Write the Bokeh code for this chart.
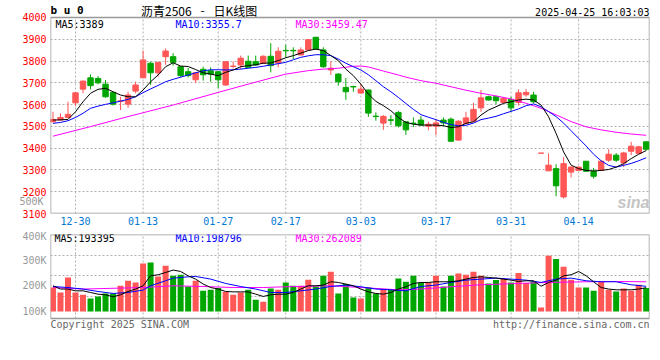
from bokeh.plotting import figure
from bokeh.models import Range1d, FixedTicker, Label, ColumnDataSource, LinearAxis
from bokeh.layouts import column
from bokeh.embed import file_html
from bokeh.resources import INLINE

# ---------------- data ----------------
dates = ["12-25", "12-26", "12-27", "12-30", "12-31", "01-02", "01-03", "01-06", "01-07", "01-08",
         "01-09", "01-10", "01-13", "01-14", "01-15", "01-16", "01-17", "01-20", "01-21", "01-22",
         "01-23", "01-24", "01-27", "02-05", "02-06", "02-07", "02-10", "02-11", "02-12", "02-13",
         "02-14", "02-17", "02-18", "02-19", "02-20", "02-21", "02-24", "02-25", "02-26", "02-27",
         "02-28", "03-03", "03-04", "03-05", "03-06", "03-07", "03-10", "03-11", "03-12", "03-13",
         "03-14", "03-17", "03-18", "03-19", "03-20", "03-21", "03-24", "03-25", "03-26", "03-27",
         "03-28", "03-31", "04-01", "04-02", "04-03", "04-07", "04-08", "04-09", "04-10", "04-11",
         "04-14", "04-15", "04-16", "04-17", "04-18", "04-21", "04-22", "04-23", "04-24", "04-25"]
tick_dates = ["12-30", "01-13", "01-27", "02-17", "03-03", "03-17", "03-31", "04-14"]

open_ = [3521, 3529, 3541, 3608, 3671, 3723, 3720, 3694, 3656, 3615,
         3602, 3662, 3723, 3790, 3746, 3820, 3820, 3774, 3751, 3714,
         3762, 3755, 3751, 3690, 3775, 3782, 3799, 3797, 3790, 3822,
         3791, 3849, 3849, 3828, 3851, 3909, 3851, 3759, 3740, 3679,
         3683, 3653, 3667, 3547, 3515, 3530, 3564, 3521, 3515, 3529,
         3501, 3501, 3529, 3533, 3437, 3514, 3524, 3585, 3636, 3636,
         3610, 3624, 3610, 3645, 3644, 3377, 3296, 3306, 3176, 3290,
         3298, 3340, 3294, 3298, 3345, 3368, 3332, 3386, 3376, 3429]
high = [3567, 3560, 3613, 3657, 3710, 3739, 3731, 3713, 3658, 3636,
        3659, 3705, 3848, 3797, 3796, 3858, 3836, 3776, 3768, 3748,
        3774, 3771, 3753, 3799, 3797, 3825, 3825, 3825, 3826, 3882,
        3863, 3875, 3863, 3863, 3900, 3911, 3863, 3799, 3744, 3722,
        3687, 3694, 3669, 3564, 3552, 3552, 3571, 3523, 3541, 3547,
        3521, 3532, 3541, 3541, 3528, 3567, 3608, 3667, 3641, 3641,
        3634, 3636, 3670, 3671, 3659, 3377, 3376, 3326, 3360, 3317,
        3317, 3341, 3309, 3344, 3395, 3378, 3383, 3429, 3411, 3430]
low = [3519, 3527, 3539, 3593, 3652, 3670, 3693, 3631, 3596, 3575,
       3585, 3652, 3722, 3690, 3728, 3782, 3779, 3725, 3725, 3699,
       3710, 3705, 3676, 3687, 3766, 3763, 3768, 3778, 3786, 3748,
       3771, 3817, 3809, 3826, 3849, 3853, 3768, 3736, 3687, 3622,
       3659, 3651, 3544, 3526, 3484, 3506, 3495, 3461, 3498, 3505,
       3483, 3460, 3501, 3428, 3435, 3509, 3521, 3567, 3619, 3601,
       3606, 3567, 3595, 3636, 3606, 3377, 3296, 3179, 3169, 3265,
       3296, 3292, 3260, 3296, 3337, 3337, 3314, 3368, 3372, 3389]
close = [3532, 3541, 3555, 3654, 3708, 3687, 3700, 3636, 3602, 3617,
         3644, 3690, 3805, 3746, 3794, 3846, 3794, 3733, 3733, 3746,
         3737, 3740, 3714, 3797, 3777, 3813, 3771, 3782, 3822, 3779,
         3845, 3847, 3847, 3851, 3898, 3855, 3774, 3767, 3705, 3659,
         3681, 3671, 3561, 3545, 3546, 3528, 3503, 3484, 3513, 3506,
         3510, 3516, 3516, 3432, 3524, 3539, 3578, 3631, 3621, 3618,
         3629, 3585, 3654, 3656, 3613, 3377, 3322, 3227, 3329, 3313,
         3313, 3294, 3271, 3340, 3372, 3345, 3378, 3409, 3406, 3395]

ma5 = [3529, 3530, 3532, 3567, 3613, 3652, 3670, 3675, 3659, 3644,
       3636, 3636, 3667, 3705, 3736, 3774, 3792, 3777, 3775, 3761,
       3746, 3740, 3733, 3748, 3759, 3774, 3779, 3783, 3790, 3791,
       3802, 3815, 3825, 3836, 3848, 3855, 3848, 3825, 3802, 3763,
       3733, 3694, 3648, 3615, 3595, 3572, 3541, 3518, 3510, 3506,
       3506, 3506, 3503, 3495, 3498, 3514, 3521, 3552, 3575, 3590,
       3606, 3613, 3621, 3625, 3621, 3598, 3544, 3468, 3383, 3322,
       3306, 3298, 3295, 3298, 3302, 3313, 3329, 3352, 3372, 3389]
ma10 = [3514, 3518, 3526, 3541, 3560, 3583, 3593, 3601, 3608, 3616,
        3624, 3636, 3655, 3672, 3688, 3705, 3716, 3726, 3736, 3746,
        3755, 3760, 3760, 3759, 3760, 3763, 3767, 3771, 3776, 3782,
        3788, 3794, 3806, 3817, 3824, 3829, 3829, 3825, 3809, 3790,
        3774, 3759, 3737, 3710, 3682, 3659, 3633, 3605, 3578, 3554,
        3542, 3531, 3518, 3508, 3503, 3505, 3515, 3531, 3538, 3546,
        3558, 3569, 3580, 3595, 3603, 3590, 3568, 3545, 3515, 3480,
        3445, 3410, 3372, 3342, 3321, 3313, 3321, 3330, 3342, 3356]
ma30_idx = [0, 5, 10, 16, 22, 26, 31, 34, 36, 38, 40, 41, 42, 44, 46, 47, 49, 51, 53, 55,
            57, 59, 61, 63, 65, 67, 69, 71, 73, 75, 77, 79]
ma30 = [3455, 3499, 3545, 3598, 3656, 3694, 3740, 3756, 3763, 3767, 3776, 3777, 3773, 3754, 3736, 3726, 3710, 3698, 3682, 3666,
        3652, 3640, 3626, 3606, 3583, 3553, 3522, 3498, 3484, 3473, 3465, 3459]

vol = [194000, 174600, 233500, 174600, 165600, 151000, 159000, 170700, 170700, 200900,
       220500, 213900, 288500, 292400, 237400, 279400, 240200, 244000, 198000, 220500,
       181300, 185200, 191900, 177300, 165600, 174600, 185200, 146000, 138000, 190300,
       185200, 213900, 200900, 200900, 224500, 198000, 240200, 255900, 170700, 207600,
       155000, 151000, 194200, 170700, 187900, 187900, 229600, 216600, 240200, 211500,
       213900, 240200, 198200, 240200, 249200, 244000, 255900, 240200, 210000, 223300,
       227200, 213900, 250800, 211500, 217800, 115700, 318700, 305700, 275500, 224500,
       194200, 194200, 181300, 216600, 185200, 178500, 190300, 181300, 204800, 191900]
vol_ma5 = [200900, 188000, 188000, 181000, 181000, 174600, 168000, 165600, 157700, 165600,
           178500, 188000, 200900, 240200, 244000, 253000, 262500, 257000, 240000, 227000,
           207600, 194000, 188000, 178500, 177000, 177000, 177000, 168000, 159000, 165600,
           168000, 168000, 174600, 188000, 200900, 200900, 203600, 216600, 213900, 207600,
           200900, 188000, 177300, 170700, 168000, 174600, 188000, 197000, 210000, 213900,
           213900, 216600, 216600, 216600, 220500, 227000, 233500, 236000, 233500, 231000,
           227000, 223000, 217800, 220500, 220500, 199000, 214000, 223000, 240000, 244000,
           257000, 240000, 216600, 194000, 188000, 185000, 185000, 185000, 188000, 193400]
vol_ma10_idx = [0, 2, 4, 6, 8, 10, 12, 13, 15, 16, 18, 19, 21, 23, 25, 27, 29, 31, 33, 35,
                37, 39, 41, 43, 45, 47, 49, 51, 53, 55, 57, 59, 61, 63, 65, 67, 69, 71, 73, 75,
                77, 79]
vol_ma10 = [198000, 194000, 188000, 178500, 170700, 174600, 183900, 200900, 220500, 230900,
            236000, 237400, 227000, 210000, 198000, 188000, 174600, 174600, 181000, 188000,
            198000, 203600, 197000, 188000, 185000, 181000, 198000, 203600, 213900, 223000,
            227000, 231000, 227000, 223000, 214000, 227000, 231000, 220500, 216600, 216600,
            204800, 198800]
vol_ma30_idx = [0, 4, 12, 16, 20, 24, 28, 31, 37, 41, 46, 49, 53, 57, 62, 66, 71, 75, 79]
vol_ma30 = [194000, 188000, 194000, 200900, 198000, 194000, 194000, 197000, 200900, 194000,
            185000, 188000, 197000, 204800, 210000, 214000, 216600, 217800, 216600]

price_ticks = [3100, 3200, 3300, 3400, 3500, 3600, 3700, 3800, 3900, 4000]
vol_ticks = [100000, 200000, 300000, 400000]
vol_tick_labels = ["100K", "200K", "300K", "400K"]
vol_grid = [160500, 240200, 318700]
vol_base = 100000
vol_floor, vol_ceil = 72500, 402000
stray_tick = 3157          # where the stray grey "500K" label sits on the price scale
stray_label = "500K"

# ---------------- styling ----------------
FONT = "DejaVu Sans Mono"
RED = "#ff5656"
GREEN = "#00a600"
GRID = "#b0b0b0"
BORDER = "#999999"
W = 660

n = len(dates)
idx = list(range(n))
colors = [RED if c >= o else GREEN for o, c in zip(open_, close)]
src = ColumnDataSource(dict(
    x=idx, o=open_, h=high, l=low, c=close,
    top=[max(o, c) for o, c in zip(open_, close)],
    bottom=[min(o, c) for o, c in zip(open_, close)],
    color=colors, vol=vol, base=[vol_base] * n,
))
tick_idx = [dates.index(d) for d in tick_dates]
k = len(tick_idx)


def style_axis(ax, color):
    ax.major_label_text_color = color
    ax.major_label_text_font = FONT
    ax.major_label_text_font_size = "10px"
    ax.axis_line_color = None
    ax.major_tick_line_color = None
    ax.minor_tick_line_color = None
    ax.major_tick_out = 0
    ax.major_tick_in = 0
    ax.minor_tick_out = 0
    ax.minor_tick_in = 0


def style_grid(g):
    g.grid_line_color = GRID
    g.grid_line_dash = "2 2"
    g.grid_line_width = 1


def lab(p, text, x, y, color="black", size="10px", font=FONT, align="left", style="normal"):
    p.add_layout(Label(x=x, y=y, x_units="screen", y_units="screen", text=text,
                       text_color=color, text_font_size=size, text_font=font,
                       text_align=align, text_baseline="middle", text_font_style=style))


xr = Range1d(-0.33, 79.44)

# ---------------- main (price) panel ----------------
# frame spans page y 0..213; the price box (3100..4000) occupies y 17..213
p1 = figure(width=W, height=230, x_range=xr, y_range=Range1d(3100, 4078),
            output_backend="svg", toolbar_location=None,
            min_border_left=50, min_border_right=11, min_border_top=0, min_border_bottom=17)
p1.background_fill_color = "white"
p1.border_fill_color = "white"
p1.outline_line_color = None

p1.yaxis.ticker = FixedTicker(ticks=price_ticks)
style_axis(p1.yaxis[0], "#ff0000")
p1.yaxis.major_label_standoff = 4

# stray grey label left of the price box
ax_stray = LinearAxis(ticker=FixedTicker(ticks=[stray_tick]),
                      major_label_overrides={stray_tick: stray_label})
style_axis(ax_stray, "#999999")
ax_stray.major_label_standoff = -24
p1.add_layout(ax_stray, "left")

p1.xaxis.ticker = FixedTicker(ticks=tick_idx)
p1.xaxis.major_label_overrides = {i: d for i, d in zip(tick_idx, tick_dates)}
style_axis(p1.xaxis[0], "#0078d4")
p1.xaxis.major_label_standoff = 3

p1.xgrid.visible = False
p1.ygrid.ticker = FixedTicker(ticks=price_ticks)
style_grid(p1.ygrid[0])
p1.segment(x0=tick_idx, y0=[price_ticks[0]] * k, x1=tick_idx, y1=[price_ticks[-1]] * k,
           line_color=GRID, line_dash="2 2", line_width=1)
p1.quad(left=[xr.start], right=[xr.end], bottom=[price_ticks[0]], top=[price_ticks[-1]],
        fill_alpha=0, line_color=BORDER, line_width=1.5)

p1.segment(x0="x", y0="l", x1="x", y1="h", color="color", line_width=1, source=src)
p1.vbar(x="x", width=0.72, top="top", bottom="bottom", fill_color="color",
        line_color="color", line_width=1, source=src)
p1.line(ma30_idx, ma30, line_color="#ff00ff", line_width=1)
p1.line(idx, ma10, line_color="#0000ff", line_width=1)
p1.line(idx, ma5, line_color="#000000", line_width=1)

# header (screen y measured up from page y 213)
lab(p1, "b u 0", 0, 203, size="11px", style="bold")
lab(p1, "沥青2506", 90.5, 203, size="12px", font="Noto Sans CJK SC")
lab(p1, "-", 152, 203, size="12px", font="Noto Sans CJK SC", align="center")
lab(p1, "日K线图", 163, 203, size="12px", font="Noto Sans CJK SC")
lab(p1, "2025-04-25 16:03:03", 599, 201.5, align="right")
# MA legends
lab(p1, "MA5:3389", 5, 189.5, color="#000000")
lab(p1, "MA10:3355.7", 125, 189.5, color="#0000ff")
lab(p1, "MA30:3459.47", 245, 189.5, color="#ff00ff")
lab(p1, "sina", 599, 11, color="#c4c4c4", size="16px", font="Liberation Sans",
    align="right", style="bold italic")

# ---------------- volume panel ----------------
# frame spans page y 234..332; the volume box occupies y 234..318
p2 = figure(width=W, height=130, x_range=xr, y_range=Range1d(17600, vol_ceil),
            output_backend="svg", toolbar_location=None, x_axis_location=None,
            min_border_left=50, min_border_right=11, min_border_top=4, min_border_bottom=28)
p2.background_fill_color = "white"
p2.border_fill_color = "white"
p2.outline_line_color = None

p2.yaxis.ticker = FixedTicker(ticks=vol_ticks)
p2.yaxis.major_label_overrides = {v: t for v, t in zip(vol_ticks, vol_tick_labels)}
style_axis(p2.yaxis[0], "#999999")
p2.yaxis.major_label_standoff = 4

p2.xgrid.visible = False
p2.ygrid.ticker = FixedTicker(ticks=vol_grid)
style_grid(p2.ygrid[0])
p2.segment(x0=tick_idx, y0=[vol_floor] * k, x1=tick_idx, y1=[vol_ceil] * k,
           line_color=GRID, line_dash="2 2", line_width=1)
p2.quad(left=[xr.start], right=[xr.end], bottom=[vol_floor], top=[vol_ceil],
        fill_alpha=0, line_color=BORDER, line_width=1.5)

p2.vbar(x="x", width=0.8, top="vol", bottom="base", fill_color="color",
        line_color=None, source=src)
p2.line(vol_ma30_idx, vol_ma30, line_color="#ff00ff", line_width=1)
p2.line(vol_ma10_idx, vol_ma10, line_color="#0000ff", line_width=1)
p2.line(idx, vol_ma5, line_color="#000000", line_width=1)

# screen y measured up from page y 332
lab(p2, "MA5:193395", 4, 94)
lab(p2, "MA10:198796", 125, 94, color="#0000ff")
lab(p2, "MA30:262089", 245, 94, color="#ff00ff")
lab(p2, "Copyright 2025 SINA.COM", 0, 8.5, color="#666666")
lab(p2, "http://finance.sina.com.cn", 599, 8.5, color="#666666", align="right")

layout = column(p1, p2, spacing=0)
open("out.html", "w").write(file_html(layout, INLINE))
